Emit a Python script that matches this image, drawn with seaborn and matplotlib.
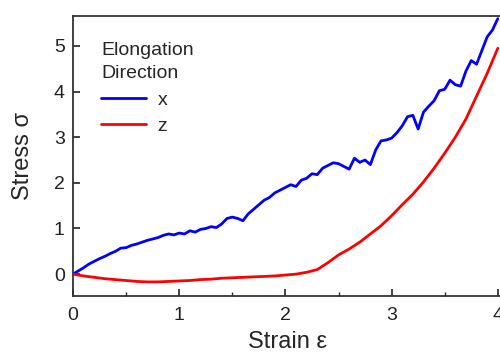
import numpy as np
import pandas as pd
import seaborn as sns
from matplotlib import pyplot as plt
from matplotlib.ticker import MultipleLocator

# strain / stress readings, elongation along x
strain_x = [0.00, 0.05, 0.10, 0.15, 0.20, 0.25, 0.30, 0.35, 0.40, 0.45,
            0.50, 0.55, 0.60, 0.65, 0.70, 0.75, 0.80, 0.85, 0.90, 0.95,
            1.00, 1.05, 1.10, 1.15, 1.20, 1.25, 1.30, 1.35, 1.40, 1.45,
            1.50, 1.55, 1.60, 1.65, 1.70, 1.75, 1.80, 1.85, 1.90, 1.95,
            2.00, 2.05, 2.10, 2.15, 2.20, 2.25, 2.30, 2.35, 2.40, 2.45,
            2.50, 2.55, 2.60, 2.65, 2.70, 2.75, 2.80, 2.85, 2.90, 2.95,
            3.00, 3.05, 3.10, 3.15, 3.20, 3.25, 3.30, 3.35, 3.40, 3.45,
            3.50, 3.55, 3.60, 3.65, 3.70, 3.75, 3.80, 3.85, 3.90, 3.95, 4.00]
stress_x = [0.00, 0.07, 0.14, 0.22, 0.28, 0.34, 0.39, 0.45, 0.50, 0.57,
            0.58, 0.63, 0.66, 0.70, 0.74, 0.77, 0.80, 0.85, 0.88, 0.86,
            0.90, 0.88, 0.95, 0.92, 0.98, 1.00, 1.04, 1.02, 1.10, 1.22,
            1.25, 1.22, 1.17, 1.32, 1.42, 1.52, 1.62, 1.68, 1.78, 1.84,
            1.90, 1.96, 1.92, 2.06, 2.10, 2.20, 2.18, 2.32, 2.38, 2.44,
            2.42, 2.36, 2.30, 2.54, 2.45, 2.50, 2.40, 2.72, 2.92, 2.94,
            2.98, 3.10, 3.25, 3.45, 3.48, 3.18, 3.55, 3.68, 3.80, 4.02,
            4.05, 4.25, 4.15, 4.12, 4.45, 4.68, 4.60, 4.90, 5.20, 5.35, 5.60]

# elongation along z
strain_z = [0.0, 0.1, 0.2, 0.3, 0.4, 0.5, 0.6, 0.7, 0.8, 0.9,
            1.0, 1.1, 1.2, 1.3, 1.4, 1.5, 1.6, 1.7, 1.8, 1.9,
            2.0, 2.1, 2.2, 2.3, 2.4, 2.5, 2.6, 2.7, 2.8, 2.9,
            3.0, 3.1, 3.2, 3.3, 3.4, 3.5, 3.6, 3.7, 3.8, 3.9, 4.0]
stress_z = [0.00, -0.04, -0.07, -0.10, -0.12, -0.14, -0.16, -0.17, -0.17, -0.16,
            -0.15, -0.14, -0.12, -0.11, -0.09, -0.08, -0.07, -0.06, -0.05, -0.04,
            -0.02, 0.00, 0.04, 0.10, 0.25, 0.42, 0.55, 0.70, 0.88, 1.06,
            1.28, 1.52, 1.75, 2.02, 2.32, 2.65, 3.00, 3.40, 3.90, 4.40, 4.95]

df = pd.concat([
    pd.DataFrame({'strain': strain_x, 'stress': stress_x, 'dir': 'x'}),
    pd.DataFrame({'strain': strain_z, 'stress': stress_z, 'dir': 'z'}),
])

sns.set_style("ticks")
plt.rcParams['font.family'] = ['Liberation Sans', 'DejaVu Sans']

fig = plt.figure(figsize=(5, 3.52), dpi=100)
ax = fig.add_axes([0.146, 0.159, 0.856, 0.796])

sns.lineplot(data=df, x='strain', y='stress', hue='dir', sort=False,
             palette={'x': '#0000ff', 'z': '#ff0000'}, linewidth=2.0,
             estimator=None, ax=ax)

ax.set_xlim(0, 4.03)
ax.set_ylim(-0.48, 5.66)
ax.xaxis.set_major_locator(MultipleLocator(1))
ax.xaxis.set_minor_locator(MultipleLocator(0.5))
ax.yaxis.set_major_locator(MultipleLocator(1))
ax.tick_params(which='major', direction='in', length=5, width=1.2,
               labelsize=14, colors='#222222')
ax.tick_params(axis='x', which='major', pad=8)
ax.tick_params(axis='y', which='major', pad=6)
ax.tick_params(which='minor', direction='in', length=3, width=1.0)
for s in ax.spines.values():
    s.set_linewidth(1.3)
    s.set_color('#333333')

ax.set_xlabel('Strain ε', fontsize=17, labelpad=5)
ax.set_ylabel('Stress σ', fontsize=17, labelpad=14)

leg = ax.legend(title='Elongation\nDirection', loc='upper left',
                bbox_to_anchor=(0.066, 0.905), frameon=False, alignment='left',
                fontsize=14, title_fontsize=14, handlelength=2.3,
                handletextpad=0.6, labelspacing=0.45, borderpad=0,
                borderaxespad=0)
leg.get_title().set_linespacing(1.45)

fig.savefig('out.png', dpi=100)
